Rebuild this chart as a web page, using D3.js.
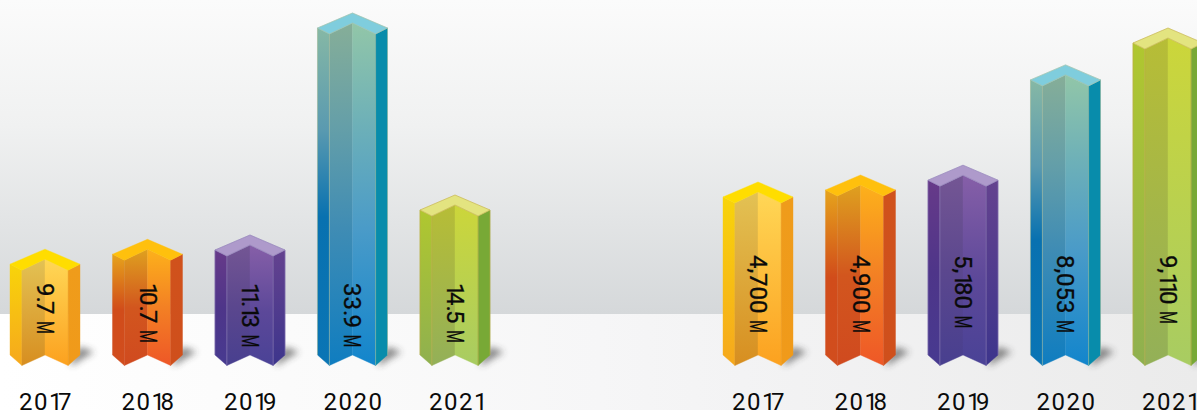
<!DOCTYPE html>
<html>
<head>
<meta charset="utf-8">
<script src="https://cdn.jsdelivr.net/npm/d3@7"></script>
<style>
html, body { margin: 0; padding: 0; background: #fff; overflow: hidden; }
svg { display: block; }
text { font-family: Roboto, sans-serif; fill: #0a0a0a; }
</style>
</head>
<body>
<div id="chart"></div>
<script>
// data
var years = ['2017', '2018', '2019', '2020', '2021'];
var leftValues = [9.7, 10.7, 11.13, 33.9, 14.5];
var leftLabels = ['9.7', '10.7', '11.13', '33.9', '14.5'];
var rightValues = [4700, 4900, 5180, 8053, 9110];
var rightLabels = ['4,700', '4,900', '5,180', '8,053', '9,110'];
var unit = 'M';

var width = 1197, height = 410;
var floorY = 314;

var svg = d3.select('#chart').append('svg')
    .attr('width', width)
    .attr('height', height);
var defs = svg.append('defs');

function gradient(id, stops, horizontal) {
    var g = defs.append('linearGradient')
        .attr('id', id)
        .attr('x1', 0).attr('y1', 0)
        .attr('x2', horizontal ? 1 : 0).attr('y2', horizontal ? 0 : 1);
    stops.forEach(function(s) {
        g.append('stop').attr('offset', s[0]).attr('stop-color', s[1]);
    });
}

// background: wall + floor
gradient('wall', [[0, '#fbfbfb'], [0.4, '#f0f1f1'], [1, '#d5d8da']]);
gradient('floor', [[0, '#ffffff'], [0.3, '#fafafa'], [0.5, '#f6f6f7'], [0.62, '#f3f3f4'], [1, '#ebebeb']], true);
svg.append('rect').attr('width', width).attr('height', floorY).attr('fill', 'url(#wall)');
svg.append('rect').attr('y', floorY).attr('width', width).attr('height', height - floorY).attr('fill', 'url(#floor)');

defs.append('filter').attr('id', 'blur')
    .attr('x', '-50%').attr('y', '-50%').attr('width', '200%').attr('height', '200%')
    .append('feGaussianBlur').attr('stdDeviation', 3.5);

// face colours for each year: top, left, inner left, inner right, right, edge lines
var faceColors = [
    { top: '#ffdd00', edge: null,
      left: [[0, '#f8d40a'], [1, '#f6a81d']], innerL: [[0, '#e3c254'], [1, '#d78e20']],
      innerR: [[0, '#ffd756'], [1, '#fca11f']], right: [[0, '#ef9c1b'], [1, '#f09a1a']] },
    { top: '#ffc00d', edge: null,
      left: [[0, '#e6a31c'], [0.5, '#d14c1a'], [1, '#d14d1e']], innerL: [[0, '#dfa11f'], [0.5, '#d2561e'], [1, '#d04a1f']],
      innerR: [[0, '#fdb11b'], [0.5, '#f38024'], [1, '#ee5727']], right: [[0, '#d0521c'], [1, '#cf4f1c']] },
    { top: '#ae9acb', edge: '#8d7fb8',
      left: [[0, '#673a89'], [0.5, '#4e3589'], [1, '#473a90']], innerL: [[0, '#745694'], [0.5, '#5b478e'], [1, '#483f8f']],
      innerR: [[0, '#865fa8'], [0.55, '#5c4899'], [1, '#4a4296']], right: [[0, '#64428f'], [1, '#3d358c']] },
    { top: '#7fcddd', edge: '#a9bf9c',
      left: [[0, '#86b8a5'], [0.3, '#5a9ab0'], [0.56, '#0871b0'], [1, '#0a75b5']],
      innerL: [[0, '#86ae98'], [0.3, '#659fa8'], [0.6, '#3f8cb4'], [1, '#0f7dc0']],
      innerR: [[0, '#92c6a8'], [0.3, '#6db0b8'], [0.6, '#4a9bc8'], [1, '#1285cc']],
      right: [[0, '#088cab'], [1, '#088cab']] },
    { top: '#e3e480', edge: '#c2ab48',
      left: [[0, '#b0c72f'], [1, '#8fb04f']], innerL: [[0, '#b7bd36'], [1, '#93b058']],
      innerR: [[0, '#ccd63a'], [1, '#a8cc62']], right: [[0, '#78a936'], [1, '#78a936']] }
];

faceColors.forEach(function(c, i) {
    gradient('left' + i, c.left);
    gradient('innerL' + i, c.innerL);
    gradient('innerR' + i, c.innerR);
    gradient('right' + i, c.right);
});

var line = d3.line();

// the original lettering has a narrow 1 and a tight point, Roboto does not, so space glyph by glyph
function glyphX(str, digit, one, point) {
    var xs = [], x = 0;
    str.split('').forEach(function(ch) {
        xs.push(x);
        x += ch === '1' ? one : (ch === '.' || ch === ',') ? point : digit;
    });
    return { list: xs.join(' '), end: x };
}

function drawPanel(values, labels, xscale, yscale, labelY) {
    var g = svg.append('g');
    var barW = xscale.bandwidth();

    years.forEach(function(year, i) {
        var x0 = xscale(year);
        var x1 = x0 + barW * 0.17;   // front left edge
        var xc = x0 + barW * 0.5;
        var x2 = x0 + barW * 0.83;   // front right edge
        var x3 = x0 + barW;
        var peak = yscale(values[i]);
        var sh = peak + 15;          // outer shoulders
        var it = peak + 21;          // inner corners at the front
        var ic = peak + 10;          // inner centre of the top
        var b0 = 355, b1 = 365.5;

        // shadow on the floor
        g.append('path')
            .attr('d', line([[x3 - 10, b1 - 3], [x3, b0 - 8], [x3 + 14, b0 - 3], [x3 + 3, b0 + 3], [x3 - 8, b1]]) + 'Z')
            .attr('fill', '#333')
            .attr('opacity', 0.6)
            .attr('filter', 'url(#blur)');

        var faces = [
            { d: [[x0, sh], [x1, it], [x1, b1], [x0, b0]], fill: 'url(#left' + i + ')' },
            { d: [[x1, it], [xc, ic], [xc, b0], [x1, b1]], fill: 'url(#innerL' + i + ')' },
            { d: [[xc, ic], [x2, it], [x2, b1], [xc, b0]], fill: 'url(#innerR' + i + ')' },
            { d: [[x2, it], [x3, sh], [x3, b0], [x2, b1]], fill: 'url(#right' + i + ')' },
            { d: [[x0, sh], [xc, peak], [x3, sh], [x2, it], [xc, ic], [x1, it]], fill: faceColors[i].top }
        ];
        g.selectAll(null)
            .data(faces)
            .join('path')
            .attr('d', function(d) { return line(d.d) + 'Z'; })
            .attr('fill', function(d) { return d.fill; })
            .attr('stroke', function(d) { return d.fill; })
            .attr('stroke-width', 0.4);

        // thin light lines on the front corners and round the top
        var edge = faceColors[i].edge;
        if (edge) {
            g.append('path')
                .attr('d', line([[x1, it], [x1, b1]]) + line([[x2, it], [x2, b1]]) +
                    line([[x0, b0], [x0, sh], [xc, peak], [x3, sh], [x3, b0]]) +
                    line([[x0, sh], [x1, it], [xc, ic], [x2, it], [x3, sh]]))
                .attr('fill', 'none')
                .attr('stroke', edge)
                .attr('stroke-width', 0.7)
                .attr('stroke-opacity', 0.8);
        }

        // value label, turned to read downwards
        var pos = glyphX(labels[i], 13.5, 9, 4.5);
        var label = g.append('text')
            .attr('transform', 'translate(' + (xc - 8) + ',' + labelY + ') rotate(90)')
            .style('font-size', '24px')
            .style('stroke', '#0a0a0a')
            .style('stroke-width', 0.3);
        label.append('tspan').attr('x', pos.list).text(labels[i] + ' ');
        label.append('tspan')
            .attr('x', pos.end + 6.5)
            .attr('textLength', 13)
            .attr('lengthAdjust', 'spacingAndGlyphs')
            .text(unit);

        // year under the bar
        var yearPos = glyphX(year, 15, 9, 0);
        g.append('text')
            .attr('transform', 'translate(' + (xc - yearPos.end / 2 + 1) + ',409.5)')
            .attr('x', yearPos.list)
            .style('font-size', '24px')
            .text(year);
    });
}

var xLeft = d3.scaleBand().domain(years).range([10, 490]).paddingInner(0.317).paddingOuter(0);
var xRight = d3.scaleBand().domain(years).range([723, 1203]).paddingInner(0.317).paddingOuter(0);

// the left bars are not drawn quite proportionally, so that scale has a bend in it
var yLeft = d3.scaleLinear().domain([0, 11.13, 14.5, 33.9]).range([345, 235, 195, 13]);
var yRight = d3.scaleLinear().domain([0, 9110]).range([346, 28]);

drawPanel(leftValues, leftLabels, xLeft, yLeft, 283);
drawPanel(rightValues, rightLabels, xRight, yRight, 255);
</script>
</body>
</html>
